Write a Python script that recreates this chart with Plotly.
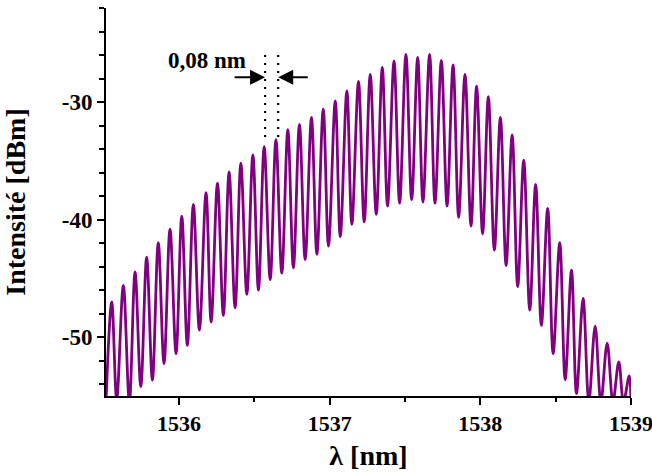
import plotly.graph_objects as go

# ---- data (wavelength in nm, intensity in dBm) ----
peak_wl = [1535.553, 1535.630, 1535.708, 1535.785, 1535.862, 1535.940, 1536.018, 1536.095,
           1536.179, 1536.255, 1536.332, 1536.410, 1536.490, 1536.565, 1536.643, 1536.722,
           1536.799, 1536.879, 1536.957, 1537.037, 1537.114, 1537.191, 1537.269, 1537.349,
           1537.427, 1537.506, 1537.584, 1537.663, 1537.741, 1537.819, 1537.898, 1537.975,
           1538.053, 1538.133, 1538.211, 1538.288, 1538.367, 1538.447, 1538.527, 1538.605,
           1538.682, 1538.762, 1538.842, 1538.919, 1538.988]
peak_db = [-47.0, -45.6, -44.45, -43.2, -41.95, -40.8, -39.7, -38.7,
           -37.7, -36.9, -35.95, -35.2, -34.5, -33.8, -33.2, -32.35,
           -31.9, -31.3, -30.6, -29.9, -29.05, -28.25, -27.65, -27.05,
           -26.5, -25.95, -26.2, -25.95, -26.45, -26.85, -27.65, -28.65,
           -29.55, -31.3, -32.8, -34.95, -37.0, -39.05, -41.95, -44.3,
           -46.7, -49.05, -50.5, -52.1, -53.3]

trough_wl = [1535.515, 1535.586, 1535.670, 1535.746, 1535.823, 1535.900, 1535.980, 1536.055,
             1536.135, 1536.213, 1536.294, 1536.372, 1536.450, 1536.527, 1536.605, 1536.682,
             1536.759, 1536.837, 1536.915, 1536.992, 1537.070, 1537.147, 1537.229, 1537.309,
             1537.384, 1537.464, 1537.544, 1537.619, 1537.699, 1537.779, 1537.856, 1537.938,
             1538.015, 1538.093, 1538.171, 1538.248, 1538.328, 1538.405, 1538.483, 1538.563,
             1538.638, 1538.720, 1538.800, 1538.880, 1538.950, 1539.000]
trough_db = [-55.5, -55.3, -55.5, -54.2, -53.65, -52.25, -51.4, -50.7,
             -49.4, -48.7, -48.15, -47.5, -46.35, -46.0, -45.1, -44.55,
             -44.1, -43.4, -42.95, -42.25, -41.45, -40.4, -40.2, -39.55,
             -38.85, -38.6, -38.3, -38.5, -38.6, -38.85, -39.8, -40.55,
             -41.2, -42.6, -43.9, -45.7, -47.7, -49.0, -51.4, -53.6,
             -54.8, -55.5, -55.5, -55.5, -55.5, -55.5]

x_tick_vals = [1536, 1537, 1538, 1539]
x_tick_text = ["1536", "1537", "1538", "1539"]
y_tick_vals = [-50, -40, -30]
y_tick_text = ["-50", "-40", "-30"]

x_range = [1535.515, 1539.0]
y_range = [-55.0, -22.0]

# annotation geometry (data coordinates)
spacing_label = "0,08 nm"
label_x, label_y = 1536.186, -26.45
mark_left, mark_right = 1536.571, 1536.658
mark_top, mark_bottom = -26.0, -33.1
arrow_y = -27.9
arrow_left_tail, arrow_right_tail = 1536.359, 1536.864

# ---- build the ordered spectrum from peaks and troughs ----
pts = sorted(list(zip(peak_wl, peak_db)) + list(zip(trough_wl, trough_db)))
wl = [p[0] for p in pts]
db = [p[1] for p in pts]

PURPLE = "#800080"
FONT = "Liberation Serif"

fig = go.Figure()
fig.add_trace(go.Scatter(x=wl, y=db, mode="lines",
                         line=dict(color=PURPLE, width=2.8, shape="spline", smoothing=1.0),
                         hoverinfo="skip", showlegend=False))

# dotted marker lines
for xm in (mark_left, mark_right):
    fig.add_shape(type="line", xref="x", yref="y", x0=xm, x1=xm, y0=mark_top, y1=mark_bottom,
                  line=dict(color="black", width=2.2, dash="2px,6px"))

# arrows
fig.add_annotation(x=mark_left, y=arrow_y, ax=arrow_left_tail, ay=arrow_y, xref="x", yref="y",
                   axref="x", ayref="y", showarrow=True, arrowhead=2, arrowsize=1.5,
                   arrowwidth=2, arrowcolor="black", text="")
fig.add_annotation(x=mark_right, y=arrow_y, ax=arrow_right_tail, ay=arrow_y, xref="x", yref="y",
                   axref="x", ayref="y", showarrow=True, arrowhead=2, arrowsize=1.5,
                   arrowwidth=2, arrowcolor="black", text="")
fig.add_annotation(x=label_x, y=label_y, xref="x", yref="y", text=spacing_label, showarrow=False,
                   font=dict(family=FONT, size=23, color="black", weight="bold"))

fig.update_layout(
    width=652, height=472,
    margin=dict(l=106, r=21, t=8, b=76),
    paper_bgcolor="white", plot_bgcolor="white",
    font=dict(family=FONT, color="black"),
)
fig.update_xaxes(range=x_range, tickmode="array", tickvals=x_tick_vals, ticktext=x_tick_text,
                 ticks="outside", ticklen=7, tickwidth=2, tickcolor="black",
                 showline=True, linewidth=2, linecolor="black", showgrid=False, zeroline=False,
                 tickfont=dict(family=FONT, size=22, color="black", weight="bold"),
                 ticklabeloverflow="allow",
                 minor=dict(tickmode="linear", tick0=1535.5, dtick=0.5, ticks="outside",
                            ticklen=4, tickwidth=2, tickcolor="black", showgrid=False),
                 title=dict(text="λ [nm]", standoff=10,
                            font=dict(family=FONT, size=28, color="black", weight="bold")),
                 automargin=False)
fig.update_yaxes(range=y_range, tickmode="array", tickvals=y_tick_vals, ticktext=y_tick_text,
                 ticks="outside", ticklen=7, tickwidth=2, tickcolor="black",
                 showline=True, linewidth=2, linecolor="black", showgrid=False, zeroline=False,
                 tickfont=dict(family=FONT, size=23, color="black", weight="bold"),
                 ticklabeloverflow="allow",
                 minor=dict(tickmode="linear", tick0=-22, dtick=2, ticks="outside",
                            ticklen=5, tickwidth=2, tickcolor="black", showgrid=False),
                 title=dict(text="Intensité [dBm]", standoff=28,
                            font=dict(family=FONT, size=28, color="black", weight="bold")),
                 automargin=False)

# remove the default page margin so the 652x472 figure fills the window exactly
fig.write_html("out.html", config={"displayModeBar": False},
               post_script="document.body.style.margin='0';document.body.style.overflow='hidden';")
